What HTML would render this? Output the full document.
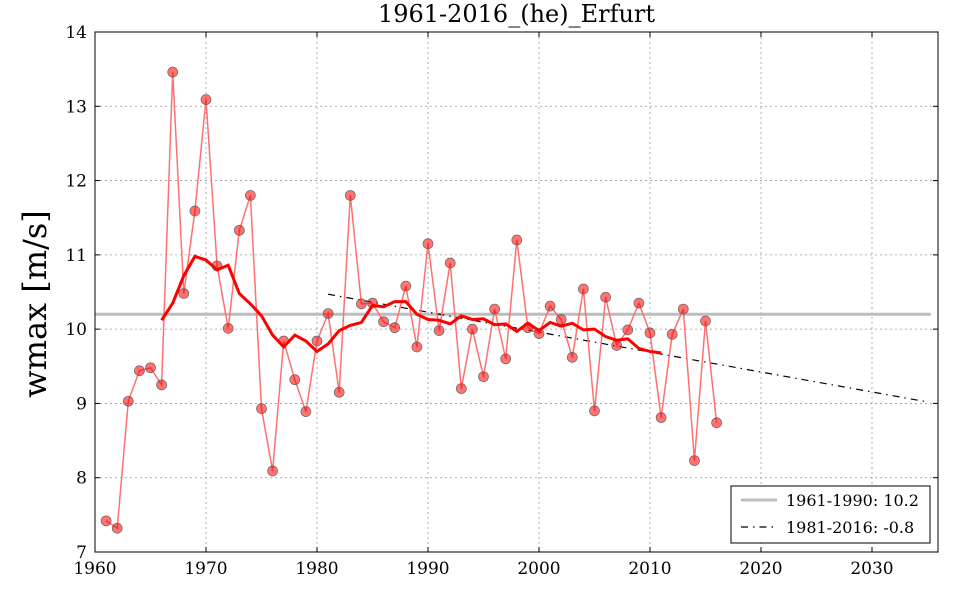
<!DOCTYPE html>
<html><head><meta charset="utf-8"><style>
body{margin:0;background:#fff}
svg{display:block;font-family:"DejaVu Serif","Liberation Serif",serif}
</style></head><body>
<svg id="c" width="960" height="600"></svg>
<script>
const years=[1961,1962,1963,1964,1965,1966,1967,1968,1969,1970,1971,1972,1973,1974,1975,1976,1977,1978,1979,1980,1981,1982,1983,1984,1985,1986,1987,1988,1989,1990,1991,1992,1993,1994,1995,1996,1997,1998,1999,2000,2001,2002,2003,2004,2005,2006,2007,2008,2009,2010,2011,2012,2013,2014,2015,2016];
const wmax=[7.42,7.32,9.03,9.44,9.48,9.25,13.46,10.48,11.59,13.09,10.85,10.01,11.33,11.80,8.93,8.09,9.84,9.32,8.89,9.84,10.21,9.15,11.80,10.34,10.35,10.10,10.02,10.58,9.76,11.15,9.98,10.89,9.20,10.00,9.36,10.27,9.60,11.20,10.02,9.94,10.31,10.13,9.62,10.54,8.90,10.43,9.78,9.99,10.35,9.95,8.81,9.93,10.27,8.23,10.11,8.74];
const maYears=[1966,1967,1968,1969,1970,1971,1972,1973,1974,1975,1976,1977,1978,1979,1980,1981,1982,1983,1984,1985,1986,1987,1988,1989,1990,1991,1992,1993,1994,1995,1996,1997,1998,1999,2000,2001,2002,2003,2004,2005,2006,2007,2008,2009,2010,2011];
const maValues=[10.12,10.35,10.72,10.98,10.93,10.80,10.86,10.48,10.34,10.18,9.92,9.76,9.92,9.84,9.70,9.80,9.98,10.05,10.09,10.32,10.30,10.37,10.37,10.20,10.13,10.12,10.07,10.18,10.13,10.14,10.06,10.07,9.97,10.08,9.98,10.09,10.04,10.08,9.99,10.00,9.90,9.85,9.87,9.74,9.70,9.68];
const trendYears=[1981,2035];
const trendValues=[10.47,9.02];
const refValue=10.2;
const xTicks=[1960,1970,1980,1990,2000,2010,2020,2030];
const yTicks=[7,8,9,10,11,12,13,14];

const L=95,R=938,T=32,B=552,X0=1960,X1=1960+(R-L)/11.1,Y0=7,Y1=14;
const sx=v=>L+(v-X0)/(X1-X0)*(R-L);
const sy=v=>B-(v-Y0)/(Y1-Y0)*(B-T);
const svg=document.getElementById('c');const NS='http://www.w3.org/2000/svg';
function mk(t,a,p){const e=document.createElementNS(NS,t);for(const k in a)e.setAttribute(k,a[k]);(p||svg).appendChild(e);return e;}
xTicks.forEach(v=>{const g=mk('line',{x1:sx(v),x2:sx(v),y1:T,y2:B,stroke:'#999','stroke-dasharray':'2,3','stroke-width':0.8});


const t=mk('text',{x:sx(v),y:B+22,'text-anchor':'middle','font-size':17});t.textContent=v;


mk('line',{x1:sx(v),x2:sx(v),y1:B,y2:B-5,stroke:'#000'});mk('line',{x1:sx(v),x2:sx(v),y1:T,y2:T+5,stroke:'#000'});});
yTicks.forEach(v=>{const g=mk('line',{x1:L,x2:R,y1:sy(v),y2:sy(v),stroke:'#999','stroke-dasharray':'2,3','stroke-width':0.8});


const t=mk('text',{x:L-8,y:sy(v)+6,'text-anchor':'end','font-size':17});t.textContent=v;


mk('line',{x1:L,x2:L+5,y1:sy(v),y2:sy(v),stroke:'#000'});mk('line',{x1:R,x2:R-5,y1:sy(v),y2:sy(v),stroke:'#000'});});
const ref=mk('line',{x1:L,x2:sx(2035.3),y1:sy(refValue),y2:sy(refValue),stroke:'#bdbdbd','stroke-width':3});


const tr=mk('line',{x1:sx(trendYears[0]),x2:sx(trendYears[1]),y1:sy(trendValues[0]),y2:sy(trendValues[1]),stroke:'#000','stroke-width':1.2,'stroke-dasharray':'7,5,1.5,5'});


const dl=mk('polyline',{points:years.map((y,i)=>sx(y)+','+sy(wmax[i])).join(' '),fill:'none',stroke:'#ff7070','stroke-width':1.5});


years.forEach((y,i)=>{const c=mk('circle',{cx:sx(y),cy:sy(wmax[i]),r:5,fill:'rgba(255,0,0,0.55)',stroke:'#666','stroke-width':0.7});

});
const ma=mk('polyline',{points:maYears.map((y,i)=>sx(y)+','+sy(maValues[i])).join(' '),fill:'none',stroke:'#ff0000','stroke-width':3});


const fr=mk('rect',{x:L,y:T,width:R-L,height:B-T,fill:'none',stroke:'#000','stroke-width':1});


const ti=mk('text',{x:(L+R)/2,y:22,'text-anchor':'middle','font-size':24});ti.textContent='1961-2016_(he)_Erfurt';


const yl=mk('text',{x:46,y:304,'text-anchor':'middle','font-size':32,transform:'rotate(-90 46 304)'});yl.textContent='wmax [m/s]';


const lg=mk('g',{});


mk('rect',{x:731,y:486,width:199,height:57,fill:'#fff',stroke:'#000'},lg);
mk('line',{x1:741,x2:777,y1:500,y2:500,stroke:'#bdbdbd','stroke-width':3},lg);
mk('line',{x1:741,x2:777,y1:527,y2:527,stroke:'#000','stroke-width':1.2,'stroke-dasharray':'7,5,1.5,5'},lg);
const l1=mk('text',{x:786,y:506,'font-size':16},lg);l1.textContent='1961-1990: 10.2';


const l2=mk('text',{x:786,y:533,'font-size':16},lg);l2.textContent='1981-2016: -0.8';


</script>
</body></html>
